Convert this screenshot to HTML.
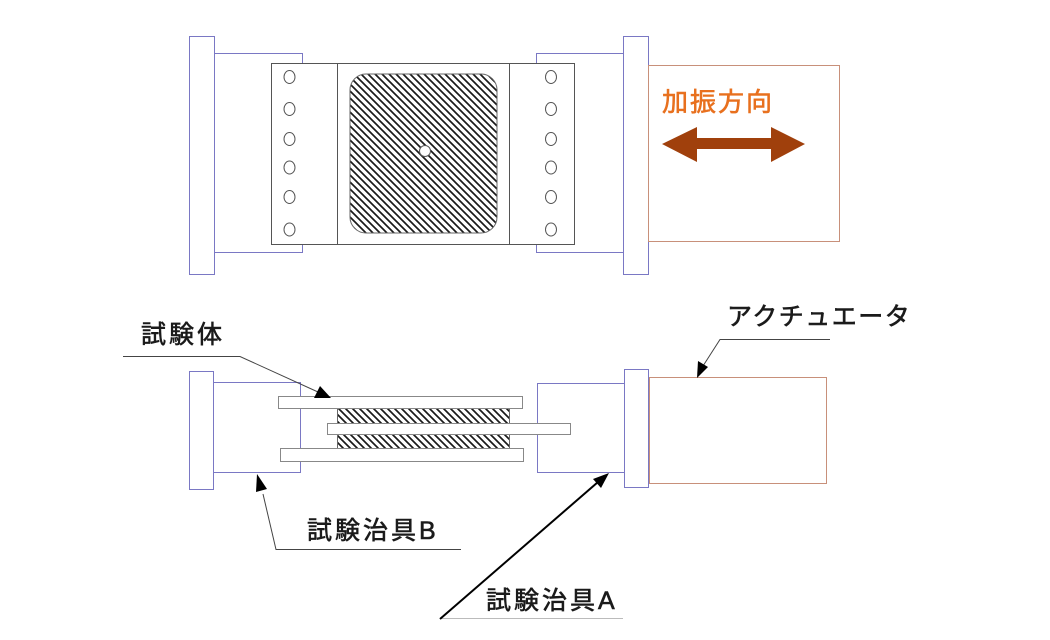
<!DOCTYPE html>
<html><head><meta charset="utf-8"><style>
html,body{margin:0;padding:0;background:#fff;}
svg{display:block;}
text{font-family:"Liberation Sans","Noto Sans CJK JP",sans-serif;}
</style></head><body>
<svg width="1050" height="640" viewBox="0 0 1050 640" xmlns="http://www.w3.org/2000/svg">
<defs>
<pattern id="h" patternUnits="userSpaceOnUse" width="7" height="7">
<path d="M-1,-1 L8,8 M-1,6 L1,8 M6,-1 L8,1" stroke="#1a1a1a" stroke-width="1.7"/>
</pattern>
</defs>
<rect width="1050" height="640" fill="#fff"/>

<!-- TOP VIEW -->
<rect x="214.5" y="53.5" width="88" height="199" fill="#fff" stroke="#7a78c4" stroke-width="1"/>
<rect x="536.5" y="53.5" width="87" height="199" fill="#fff" stroke="#7a78c4" stroke-width="1"/>
<rect x="189.5" y="36.5" width="25" height="238" fill="#fff" stroke="#7a78c4" stroke-width="1"/>
<rect x="623.5" y="36.5" width="25" height="238" fill="#fff" stroke="#7a78c4" stroke-width="1"/>
<rect x="648.5" y="65.5" width="191" height="176" fill="#fff" stroke="#c8907a" stroke-width="1"/>
<rect x="271.5" y="63.5" width="303" height="181" fill="#fff" stroke="#555" stroke-width="1"/>
<line x1="337.5" y1="63.5" x2="337.5" y2="244.5" stroke="#555"/>
<line x1="509.5" y1="63.5" x2="509.5" y2="244.5" stroke="#555"/>
<rect x="350" y="74" width="147" height="159" rx="16" ry="16" fill="url(#h)" stroke="#666" stroke-width="1"/>
<circle cx="425" cy="151" r="5.5" fill="#fff" stroke="#555"/>
<g fill="#fff" stroke="#555" stroke-width="1">
<ellipse cx="289.5" cy="77" rx="5.5" ry="6.5"/>
<ellipse cx="289.5" cy="109" rx="5.5" ry="6.5"/>
<ellipse cx="289.5" cy="139" rx="5.5" ry="6.5"/>
<ellipse cx="289.5" cy="167.5" rx="5.5" ry="6.5"/>
<ellipse cx="289.5" cy="197" rx="5.5" ry="6.5"/>
<ellipse cx="289.5" cy="229.5" rx="5.5" ry="6.5"/>
<ellipse cx="551" cy="77" rx="5.5" ry="6.5"/>
<ellipse cx="551" cy="109" rx="5.5" ry="6.5"/>
<ellipse cx="551" cy="139" rx="5.5" ry="6.5"/>
<ellipse cx="551" cy="167.5" rx="5.5" ry="6.5"/>
<ellipse cx="551" cy="197" rx="5.5" ry="6.5"/>
<ellipse cx="551" cy="229.5" rx="5.5" ry="6.5"/>
</g>
<text x="662" y="111" font-size="26" fill="#e8701e" stroke="#e8701e" stroke-width="0.6" letter-spacing="2">加振方向</text>
<polygon points="662,144 697,127 697,138 771,138 771,127 805,144 771,162 771,149 697,149 697,162" fill="#a0400c"/>

<!-- SIDE VIEW -->
<rect x="213.5" y="382.5" width="87" height="90" fill="#fff" stroke="#7a78c4"/>
<rect x="537.5" y="383.5" width="87" height="89" fill="#fff" stroke="#7a78c4"/>
<rect x="189.5" y="371.5" width="24" height="118" fill="#fff" stroke="#7a78c4"/>
<rect x="624.5" y="369.5" width="24" height="118" fill="#fff" stroke="#7a78c4"/>
<rect x="649.5" y="377.5" width="177" height="106" fill="#fff" stroke="#c8907a"/>
<rect x="337.5" y="408.5" width="172" height="15" fill="url(#h)" stroke="#666"/>
<rect x="337.5" y="434.5" width="172" height="14" fill="url(#h)" stroke="#666"/>
<rect x="278.5" y="396.5" width="244" height="12" fill="#fff" stroke="#888"/>
<rect x="327.5" y="423.5" width="243" height="11" fill="#fff" stroke="#888"/>
<rect x="280.5" y="448.5" width="243" height="13" fill="#fff" stroke="#888"/>

<!-- leaders -->
<g stroke="#444" stroke-width="1" fill="none">
<polyline points="123,356.5 240,356.5 318,392"/>
<polyline points="830,339.5 720,339.5 703,366"/>
<polyline points="263,494 276,549.5 461,549.5"/>
</g>
<line x1="440" y1="618.5" x2="623" y2="618.5" stroke="#bbb" stroke-width="1"/>
<line x1="440" y1="619" x2="598" y2="482" stroke="#000" stroke-width="2"/>
<polygon points="331,398 314,398 320,386" fill="#000"/>
<polygon points="697,378 698,361 708,367" fill="#000"/>
<polygon points="257,474 256,492 267,489" fill="#000"/>
<polygon points="609,473 593,479 601,488" fill="#000"/>

<g fill="#1a1a1a" stroke="#1a1a1a" stroke-width="0.6" font-size="25">
<text x="141" y="343" letter-spacing="3">試験体</text>
<text x="727" y="325" letter-spacing="1.5">アクチュエータ</text>
<text x="307" y="539" letter-spacing="3">試験治具B</text>
<text x="486" y="609" letter-spacing="3">試験治具A</text>
</g>
</svg>
</body></html>
